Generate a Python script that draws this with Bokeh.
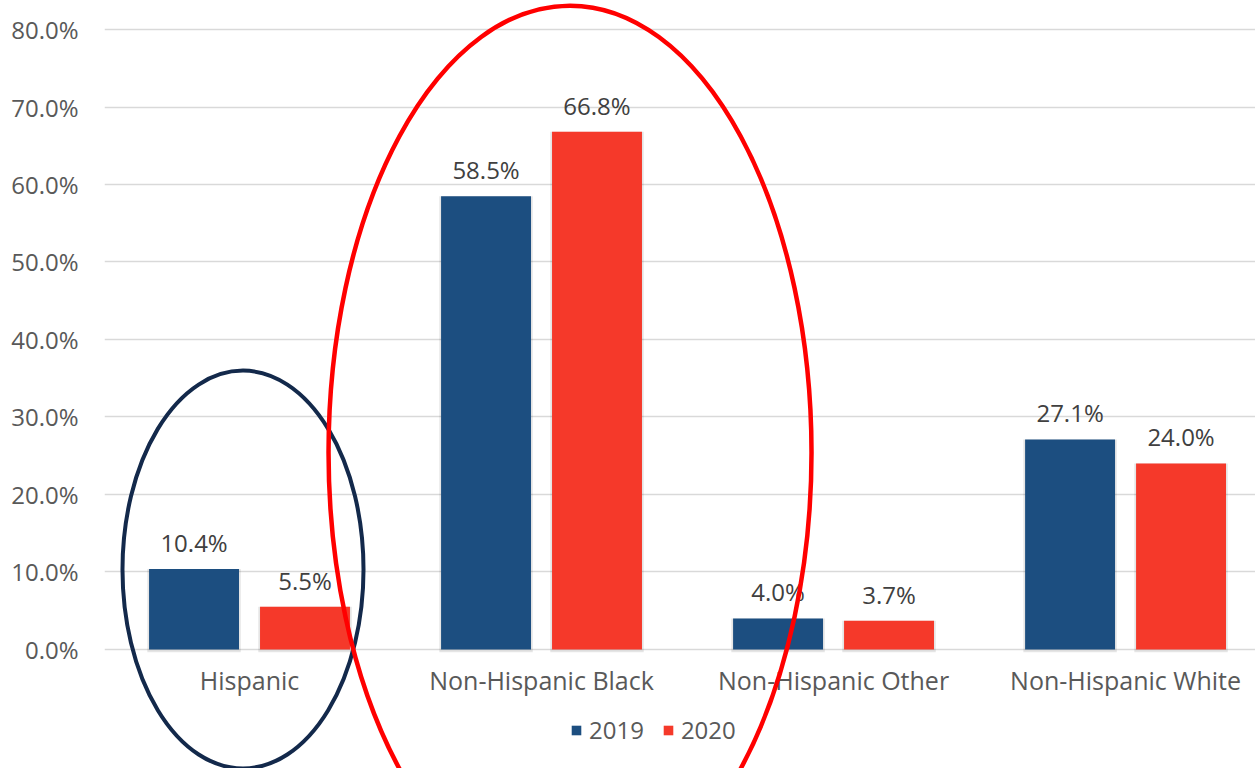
import numpy as np
from bokeh.plotting import figure
from bokeh.models import (ColumnDataSource, FixedTicker, PrintfTickFormatter, Range1d,
                          Legend, LegendItem)
from bokeh.core.properties import value
from bokeh.embed import file_html
from bokeh.resources import INLINE

categories = ["Hispanic", "Non-Hispanic Black", "Non-Hispanic Other", "Non-Hispanic White"]
years = ["2019", "2020"]
values_2019 = [10.4, 58.5, 4.0, 27.1]
values_2020 = [5.5, 66.8, 3.7, 24.0]
y_ticks = [0, 10, 20, 30, 40, 50, 60, 70, 80]

FONT = "Open Sans"
BLUE = "#1C4E80"
RED = "#F5392A"

x = np.arange(len(categories), dtype=float)
off = 0.19
bw = 0.308

src19 = ColumnDataSource(dict(x=x - off, top=values_2019, label=[f"{v:.1f}%" for v in values_2019]))
src20 = ColumnDataSource(dict(x=x + off, top=values_2020, label=[f"{v:.1f}%" for v in values_2020]))
cat_src = ColumnDataSource(dict(x=x, y=[-4.0] * len(categories), text=categories))

p = figure(width=1255, height=768, output_backend="svg", toolbar_location=None,
           x_range=Range1d(-0.4966, 3.445), y_range=Range1d(-15.355, 83.742),
           min_border_left=104, min_border_right=0, min_border_top=0, min_border_bottom=0)
p.outline_line_color = None
p.background_fill_color = "white"
p.xaxis.visible = False

# soft bar shadows
for s in (src19, src20):
    p.vbar(x="x", top="top", width=bw + 0.012, bottom=-0.35, source=s,
           fill_color="#000000", fill_alpha=0.10, line_color=None)

r19 = p.vbar(x="x", top="top", width=bw, bottom=0, source=src19, fill_color=BLUE, line_color=None)
r20 = p.vbar(x="x", top="top", width=bw, bottom=0, source=src20, fill_color=RED, line_color=None)

for s in (src19, src20):
    p.text(x="x", y="top", text="label", source=s, text_align="center", text_baseline="bottom",
           y_offset=-10, text_font=value(FONT), text_font_size="24px", text_color="#404040")

# category labels
p.text(x="x", y="y", text="text", source=cat_src, text_align="center", text_baseline="middle",
       text_font=value(FONT), text_font_size="25px", text_color="#595959")

# y axis
p.yaxis.ticker = FixedTicker(ticks=y_ticks)
p.yaxis.formatter = PrintfTickFormatter(format="%.1f%%")
p.yaxis.axis_line_color = None
p.yaxis.major_tick_line_color = None
p.yaxis.minor_tick_line_color = None
p.yaxis.major_label_standoff = 20
p.yaxis.major_label_text_font = FONT
p.yaxis.major_label_text_font_size = "24px"
p.yaxis.major_label_text_color = "#595959"

p.xgrid.grid_line_color = None
p.ygrid.ticker = FixedTicker(ticks=y_ticks)
p.ygrid.grid_line_color = "#D9D9D9"
p.ygrid.grid_line_width = 1.5

# highlight ellipses
p.ellipse(x=[-0.0223], y=[10.32], width=[2 * 0.4127], height=[2 * 25.68],
          fill_alpha=0, line_color="#13294B", line_width=4)
p.ellipse(x=[1.0976], y=[25.42], width=[2 * 0.827], height=[2 * 57.68],
          fill_alpha=0, line_color="#FF0000", line_width=4.5)

legend = Legend(items=[LegendItem(label=years[0], renderers=[r19]),
                       LegendItem(label=years[1], renderers=[r20])],
                orientation="horizontal", location=(466, 22),
                glyph_width=12, glyph_height=12, spacing=18, label_standoff=7,
                label_text_font=FONT, label_text_font_size="24px", label_text_color="#595959",
                border_line_color=None, background_fill_alpha=0, padding=0, margin=0)
p.add_layout(legend, "center")

open("out.html", "w").write(file_html(p, INLINE))
